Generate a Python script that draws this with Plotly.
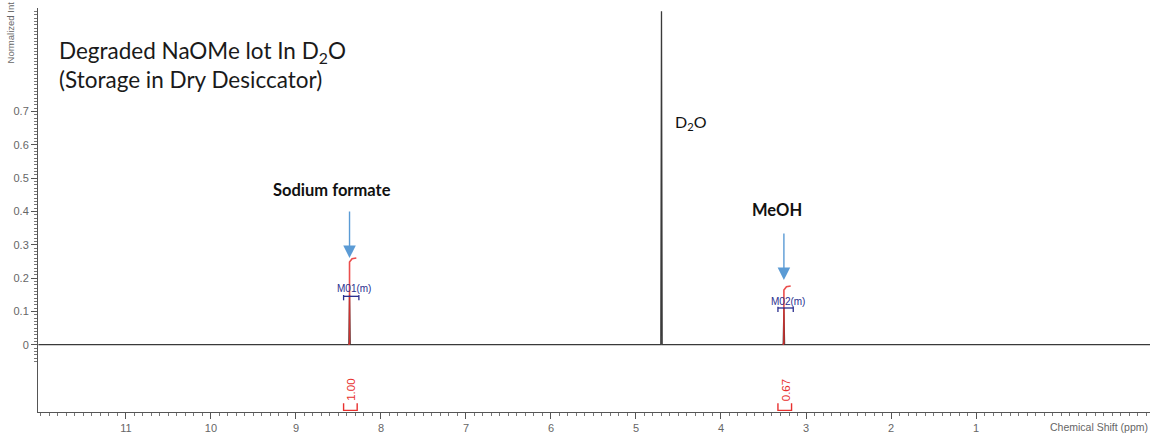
import numpy as np
import plotly.graph_objects as go

# ---------------- data ----------------
spectrum_ppm = [12.03, 8.378, 8.37, 8.362, 4.708, 4.70, 4.692, 3.268, 3.26, 3.252, -1.05]
spectrum_int = [0.0, 0.0, 0.15, 0.0, 0.0, 1.0, 0.0, 0.0, 0.11, 0.0, 0.0]

peak_ppm = [8.37, 4.70, 3.26]
peak_names = ["Sodium formate", "D<sub>2</sub>O", "MeOH"]

integral_ppm = [8.37, 3.26]
integral_top = [0.26, 0.176]
integral_values = ["1.00", "0.67"]
multiplet_labels = ["M01(m)", "M02(m)"]
multiplet_top = [0.145, 0.11]

x_tick_labels = ["11", "10", "9", "8", "7", "6", "5", "4", "3", "2", "1"]
y_tick_labels = ["0", "0.1", "0.2", "0.3", "0.4", "0.5", "0.6", "0.7"]

title_lines = ["Degraded NaOMe lot In D<sub>2</sub>O", "(Storage in Dry Desiccator)"]

# ---------------- figure ----------------
RED = "#e8302e"
NAVY = "#2b2f8f"
BLUE = "#5b9bd5"
GRAY_TXT = "#666666"
SLIDE_FONT = "Lato"
AX_FONT = "Liberation Sans"

fig = go.Figure()

# spectrum
fig.add_trace(go.Scatter(x=spectrum_ppm, y=spectrum_int, mode="lines",
                         line=dict(color="#3a3a3a", width=1.3),
                         hoverinfo="skip", showlegend=False))

# integral curves (red)
for p, top in zip(integral_ppm, integral_top):
    fig.add_trace(go.Scatter(
        x=[p + 0.012, p, p, p - 0.03, p - 0.08],
        y=[0.0, 0.004, top - 0.012, top - 0.002, top],
        mode="lines", line=dict(color=RED, width=1.6), opacity=0.85,
        hoverinfo="skip", showlegend=False))

# multiplet brackets (navy)
for p, h in zip(integral_ppm, multiplet_top):
    fig.add_trace(go.Scatter(
        x=[p + 0.07, p + 0.07, None, p + 0.07, p - 0.11, None, p - 0.11, p - 0.11],
        y=[h - 0.012, h + 0.004, None, h, h, None, h - 0.012, h + 0.004],
        mode="lines", line=dict(color=NAVY, width=1.3),
        hoverinfo="skip", showlegend=False))

# integral value brackets (red U shape)
for p in integral_ppm:
    fig.add_trace(go.Scatter(
        x=[p + 0.07, p + 0.07, p - 0.09, p - 0.09],
        y=[-0.176, -0.197, -0.197, -0.176],
        mode="lines", line=dict(color=RED, width=1.4),
        hoverinfo="skip", showlegend=False))

annotations = []

# title
annotations.append(dict(xref="paper", yref="paper", x=0.017, y=0.932,
                        xanchor="left", yanchor="top", align="left",
                        text="<br>".join(title_lines), showarrow=False,
                        font=dict(family=SLIDE_FONT, size=22.5, color="#1a1a1a")))

# compound labels
annotations.append(dict(x=peak_ppm[0], y=0.464, xshift=-18, text="<b>" + peak_names[0] + "</b>",
                        showarrow=False, font=dict(family=SLIDE_FONT, size=16.5, color="#111")))
annotations.append(dict(x=peak_ppm[1], y=0.667, xshift=12, xanchor="left", text=peak_names[1],
                        showarrow=False, font=dict(family=SLIDE_FONT, size=16, color="#111")))
annotations.append(dict(x=peak_ppm[2], y=0.405, xshift=-7, text="<b>" + peak_names[2] + "</b>",
                        showarrow=False, font=dict(family=SLIDE_FONT, size=16.5, color="#111")))

# blue arrows
for p, top, stand in zip(integral_ppm, integral_top, [0.0, 0.018]):
    annotations.append(dict(x=p, y=top + stand, ax=0, ay=-48, text="", showarrow=True,
                            arrowhead=2, arrowsize=1.8, arrowwidth=1.4, arrowcolor=BLUE))

# multiplet labels
for p, lab, yy in zip(integral_ppm, multiplet_labels, [0.17, 0.131]):
    annotations.append(dict(x=p, y=yy, xshift=4, text=lab, showarrow=False,
                            font=dict(family=AX_FONT, size=10, color=NAVY)))

# integral values
for p, val in zip(integral_ppm, integral_values):
    annotations.append(dict(x=p, y=-0.137, xshift=2, text=val, textangle=-90, showarrow=False,
                            font=dict(family=AX_FONT, size=11.5, color=RED)))

# axis titles
annotations.append(dict(xref="paper", yref="paper", x=-0.025, y=0.94, xanchor="center",
                        yanchor="middle", text="Normalized Int",
                        textangle=-90, showarrow=False,
                        font=dict(family=AX_FONT, size=9.5, color=GRAY_TXT)))
annotations.append(dict(xref="paper", yref="paper", x=1.0, y=0.0, yshift=-15, xanchor="right",
                        yanchor="middle", text="Chemical Shift (ppm)", showarrow=False,
                        font=dict(family=AX_FONT, size=10.5, color=GRAY_TXT)))

# axis ticks (style)
x_major = list(np.round(np.arange(-1.0, 12.01, 0.5), 2))
x_text = []
for v in x_major:
    s = str(int(v)) if float(v).is_integer() else ""
    x_text.append(s if s in x_tick_labels else "")
x_minor = list(np.round(np.arange(-1.0, 12.03, 0.1), 2))

y_major = list(np.round(np.arange(-0.05, 1.001, 0.05), 2))
y_text = []
for v in y_major:
    s = ("%g" % v)
    y_text.append(s if s in y_tick_labels else "")
y_minor = list(np.round(np.arange(-0.05, 1.001, 0.01), 2))

fig.update_layout(
    width=1153, height=437,
    margin=dict(l=38, r=3, t=8, b=22),
    paper_bgcolor="white", plot_bgcolor="white",
    annotations=annotations,
    showlegend=False,
    xaxis=dict(range=[12.035, -1.047], showgrid=False, zeroline=False,
               showline=True, linecolor="#555", linewidth=1,
               tickmode="array", tickvals=x_major, ticktext=x_text,
               ticks="outside", ticklen=6, tickcolor="#555", tickwidth=1,
               tickfont=dict(family=AX_FONT, size=11, color=GRAY_TXT),
               minor=dict(tickmode="array", tickvals=x_minor, ticks="outside",
                          ticklen=3, tickcolor="#777", tickwidth=1, showgrid=False)),
    yaxis=dict(range=[-0.202, 1.01], showgrid=False, zeroline=False,
               showline=True, linecolor="#555", linewidth=1,
               tickmode="array", tickvals=y_major, ticktext=y_text,
               ticks="outside", ticklen=6, tickcolor="#555", tickwidth=1,
               tickfont=dict(family=AX_FONT, size=11, color=GRAY_TXT),
               minor=dict(tickmode="array", tickvals=y_minor, ticks="outside",
                          ticklen=3, tickcolor="#777", tickwidth=1, showgrid=False)),
)

fig.write_html("out.html")
